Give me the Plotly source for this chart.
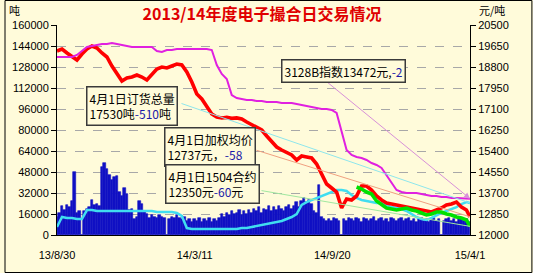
import pandas as pd
import plotly.graph_objects as go

BG = "#FFFBDA"

# ---------------- data ----------------
title_text = "2013/14年度电子撮合日交易情况"
xtick_dates = ["2013-08-30", "2014-03-11", "2014-09-20", "2015-04-01"]
xtick_text = ["13/8/30", "14/3/11", "14/9/20", "15/4/1"]

# weekly sample dates for the lines (plus last day)
line_dates = pd.date_range("2013-08-30", periods=83, freq="7D").tolist() + [pd.Timestamp("2015-04-01")]
# semi-weekly sample dates for the volume bars
bar_dates = pd.date_range("2013-08-30", periods=166, freq="84h")

# 加权均价 (元/吨, right axis)
avg_price = [19448, 19529, 19367, 19205, 19083, 19326, 19529, 19650, 19569, 19367,
             19205, 18840, 18517, 18233, 18355, 18395, 18476, 18395, 18274, 18517,
             18719, 18800, 18760, 18840, 18921, 18881, 18598, 18193, 17707, 17505,
             17181, 16898, 16776, 16736, 16760, 16720, 16740, 16695, 16574, 16452,
             16371, 16250, 16007, 15805, 15562, 15440, 15319, 15238, 15036, 15198,
             15157, 15117, 14874, 14429, 14064, 13902, 13740, 13093, 13457, 13417,
             13579, 13983, 13983, 13821, 13579, 13417, 13295, 13255, 13214, 13174,
             13133, 13093, 13052, 13012, 12971, 12931, 13012, 13093, 13214, 13255,
             13336, 13133, 13012, 12737]

# 3128B指数 (元/吨, right axis)
index_3128b = [19205, 19205, 19205, 19205, 19286, 19448, 19610, 19650, 19690, 19731,
               19731, 19771, 19731, 19690, 19650, 19610, 19610, 19610, 19610, 19610,
               19448, 19407, 19488, 19488, 19529, 19529, 19529, 19529, 19529, 19529,
               19529, 19488, 18881, 18517, 18314, 17667, 17545, 17505, 17464, 17464,
               17424, 17424, 17383, 17383, 17383, 17343, 17343, 17343, 17302, 17262,
               17221, 17181, 17140, 17100, 17100, 17060, 16938, 16169, 15440, 15238,
               15157, 15117, 15036, 14914, 14833, 14712, 14429, 14105, 13821, 13740,
               13700, 13700, 13700, 13660, 13619, 13579, 13579, 13538, 13538, 13498,
               13498, 13498, 13498, 13472]

# 订货总量 (吨, left axis)
order_total = [6100, 13700, 13000, 13000, 12200, 12200, 19000, 19000, 18300, 18300,
               18300, 18300, 18300, 18300, 18300, 18300, 18300, 18300, 18300, 18300,
               17500, 17500, 17500, 17500, 16800, 14500, 5300, 4600, 4600, 4600,
               4600, 4600, 4600, 4600, 4600, 4600, 4600, 5300, 5300, 6100,
               6900, 7600, 8400, 9100, 9900, 10700, 12200, 13700, 16000, 22900,
               25100, 26700, 28200, 29700, 31200, 32800, 34300, 34300, 33500, 30500,
               28200, 26700, 25900, 25100, 24400, 24400, 22900, 21300, 20600, 19800,
               18300, 16000, 13700, 12200, 11400, 13000, 15200, 16800, 18300, 19800,
               21300, 23600, 25100, 24400]

# 1504合约 (元/吨, right axis) from week 60 on
c1504_dates = line_dates[60:]
c1504 = [13943, 13862, 13740, 13660, 13376, 13214, 13093, 13052, 13012, 13052,
         13093, 13012, 12971, 12890, 12810, 12850, 12931, 12931, 12850, 12810,
         12729, 12688, 12607, 12350]

# 日成交量 (吨, left axis)
volume = [14000, 17000, 22000, 19000, 23000, 21000, 26000, 48000, 17000, 18000,
          0, 18000, 20000, 21000, 27000, 23000, 24000, 22000, 52000, 55000,
          50000, 46000, 42000, 44000, 45000, 33000, 30000, 36000, 31000, 19000,
          20000, 12000, 14000, 26000, 24000, 18000, 16000, 13000, 15000, 14000,
          13000, 15000, 14000, 13000, 0, 12000, 14000, 13000, 15000, 13000,
          12000, 14000, 11000, 12000, 10000, 12000, 11000, 13000, 10000, 12000,
          11000, 13000, 10000, 12000, 11000, 13000, 16000, 14000, 17000, 15000,
          18000, 16000, 17000, 19000, 15000, 18000, 16000, 19000, 17000, 20000,
          18000, 21000, 17000, 20000, 19000, 22000, 18000, 21000, 19000, 22000,
          20000, 18000, 21000, 23000, 20000, 22000, 25000, 21000, 26000, 28000,
          25000, 27000, 24000, 18000, 17000, 38000, 14000, 12000, 11000, 12000,
          11000, 13000, 12000, 11000, 0, 12000, 11000, 13000, 12000, 11000,
          13000, 12000, 10000, 13000, 12000, 11000, 12000, 14000, 11000, 12000,
          13000, 11000, 12000, 10000, 13000, 12000, 11000, 12000, 13000, 11000,
          12000, 13000, 11000, 12000, 10000, 12000, 13000, 11000, 12000, 10000,
          12000, 13000, 11000, 12000, 0, 11000, 12000, 13000, 11000, 12000,
          10000, 13000, 12000, 11000, 12000, 10000]

# ---------------- figure ----------------
fig = go.Figure()
fig.add_trace(go.Bar(x=bar_dates, y=volume, width=3.5 * 86400000,
                     marker=dict(color="#1010C4", line=dict(width=0.6, color="#1010C4")),
                     yaxis="y"))
fig.add_trace(go.Scatter(x=line_dates, y=avg_price, mode="lines", yaxis="y2",
                         line=dict(color="#FF0000", width=3.6)))
fig.add_trace(go.Scatter(x=c1504_dates, y=c1504, mode="lines", yaxis="y2",
                         line=dict(color="#00E000", width=3.6)))
fig.add_trace(go.Scatter(x=line_dates, y=index_3128b, mode="lines", yaxis="y2",
                         line=dict(color="#E020E0", width=2)))
fig.add_trace(go.Scatter(x=line_dates, y=order_total, mode="lines", yaxis="y",
                         line=dict(color="#40DDF0", width=2.5)))

W, H = 533, 273
L, R, T, B = 53, 63, 25, 38
PW, PH = W - L - R, H - T - B


def px(xp):
    return (xp - L) / PW


def py(yp):
    return (H - B - yp) / PH


blue = "#1a1aa8"
box_font = dict(family="Noto Sans CJK SC", size=12, color="black")
ann = []
labels = [
    (129, 106, "4月1日订货总量<br>17530吨<span style='color:%s'>-510</span>吨" % blue),
    (207, 147, "4月1日加权均价<br>12737元，<span style='color:%s'>-58</span>" % blue),
    (210, 184, "4月1日1504合约<br>12350元<span style='color:%s'>-60</span>元" % blue),
    (342, 71, "3128B指数13472元,<span style='color:%s'>-2</span>" % blue),
]
# arrows from the label boxes to the latest value of each series
arrows = [
    (line_dates[-1], order_total[-1], "y", -290, -100, "#8EE6EC", 0),
    (line_dates[-1], avg_price[-1], "y2", -215, -67, "#F0A080", 0),
    (c1504_dates[-1], c1504[-1], "y2", -210, -36, "#A0E8A0", 0),
    (line_dates[-1], index_3128b[-1], "y2", -152, -124, "#D890D8", 2),
]
for x, y, yr, ax, ay, col, head in arrows:
    ann.append(dict(x=x, y=y, xref="x", yref=yr, ax=ax, ay=ay, text="",
                    showarrow=True, arrowcolor=col, arrowwidth=1,
                    arrowhead=head, arrowsize=1.2))
for cx, cy, t in labels:
    ann.append(dict(x=px(cx), y=py(cy), xref="paper", yref="paper", text=t,
                    showarrow=False, align="left", font=box_font,
                    bgcolor=BG, bordercolor="#3a3a3a", borderwidth=1.5,
                    borderpad=2, xanchor="center", yanchor="middle"))
ann.append(dict(x=px(3), y=py(0), xref="paper", yref="paper", text="吨",
                showarrow=False, xanchor="left", yanchor="top",
                font=dict(family="Noto Sans CJK SC", size=11, color="black")))
ann.append(dict(x=px(477), y=py(0), xref="paper", yref="paper", text="元/吨",
                showarrow=False, xanchor="left", yanchor="top",
                font=dict(family="Noto Sans CJK SC", size=11, color="black")))

fig.update_layout(
    width=W, height=H,
    margin=dict(l=L, r=R, t=T, b=B),
    paper_bgcolor=BG, plot_bgcolor=BG,
    showlegend=False, bargap=0,
    title=dict(text="<b>%s</b>" % title_text, x=262 / W, xref="container",
               y=1 - 14 / H, yref="container", xanchor="center", yanchor="middle",
               font=dict(family="Noto Sans CJK SC", size=16, color="#E00000")),
    xaxis=dict(type="date", range=["2013-08-30", "2015-04-01"],
               tickvals=xtick_dates, ticktext=xtick_text, showgrid=False,
               showline=True, linecolor="black", linewidth=1, ticks="",
               ticklabelstandoff=10, zeroline=False,
               tickfont=dict(family="Liberation Sans", size=11, color="black")),
    yaxis=dict(range=[0, 160000], tick0=0, dtick=16000, tickformat="d",
               showgrid=True, gridcolor="#A8A8A8", griddash="dash", gridwidth=1,
               showline=True, linecolor="black", linewidth=1, zeroline=False,
               ticks="outside", ticklen=5, tickcolor="black",
               tickfont=dict(family="Liberation Sans", size=11, color="black")),
    yaxis2=dict(range=[12000, 20500], tick0=12000, dtick=850, tickformat="d",
                overlaying="y", side="right", showgrid=False,
                showline=True, linecolor="black", linewidth=1, zeroline=False,
                ticks="outside", ticklen=5, tickcolor="black",
                tickfont=dict(family="Liberation Sans", size=11, color="black")),
    annotations=ann,
    shapes=[dict(type="rect", xref="paper", yref="paper",
                 x0=(0.5 - L) / PW, x1=(W - 0.5 - L) / PW,
                 y0=(0.5 - B) / PH, y1=(H - 0.5 - B) / PH,
                 line=dict(color="black", width=1), fillcolor="rgba(0,0,0,0)",
                 layer="above")],
)

fig.write_html("out.html")
